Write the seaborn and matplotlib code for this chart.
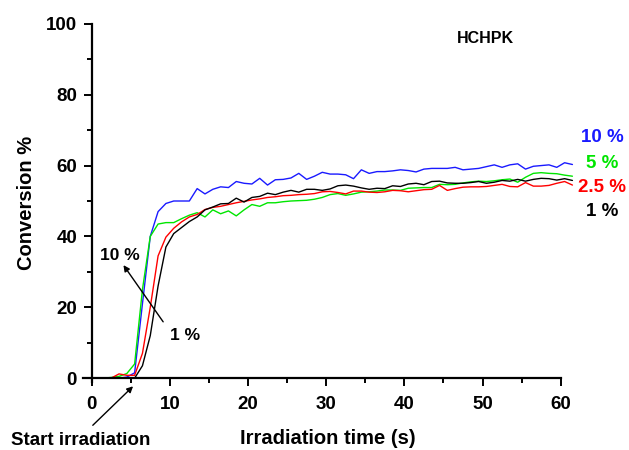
import matplotlib
matplotlib.use("Agg")
import matplotlib.pyplot as plt
import seaborn as sns
import pandas as pd
from matplotlib.ticker import MultipleLocator

# ---------------- data ----------------
time_s = [1.5, 2.5, 3.5, 4.5, 5.5, 6.5, 7.5, 8.5, 9.5, 10.5,
          11.5, 12.5, 13.5, 14.5, 15.5, 16.5, 17.5, 18.5, 19.5, 20.5,
          21.5, 22.5, 23.5, 24.5, 25.5, 26.5, 27.5, 28.5, 29.5, 30.5,
          31.5, 32.5, 33.5, 34.5, 35.5, 36.5, 37.5, 38.5, 39.5, 40.5,
          41.5, 42.5, 43.5, 44.5, 45.5, 46.5, 47.5, 48.5, 49.5, 50.5,
          51.5, 52.5, 53.5, 54.5, 55.5, 56.5, 57.5, 58.5, 59.5, 60.5,
          61.5]

conv_10 = [0, 0, 0, 0.3, 1.5, 21, 40, 47, 49.3, 50,
           50, 50, 53.5, 52, 53.3, 54, 53.8, 55.5, 55, 54.8,
           56.4, 54.5, 56, 56.1, 56.5, 57.8, 56.1, 57, 58.1, 57.6,
           57.6, 57.4, 56.3, 58.8, 57.8, 58.3, 58.3, 58.5, 58.8, 58.6,
           58.2, 59, 59.2, 59.2, 59.2, 59.5, 58.8, 59, 59.2, 59.7,
           60.2, 59.5, 60.2, 60.5, 59, 59.8, 60, 60.2, 59.5, 60.8,
           60.3]

conv_5 = [0, 0.2, 0.5, 1.3, 4, 25, 40, 43.5, 43.9, 43.9,
          45, 46, 46.7, 45.5, 47.5, 46.4, 47.2, 45.8, 47.5, 49,
          48.5, 49.5, 49.5, 49.8, 50, 50.1, 50.2, 50.5, 51, 51.8,
          52.1, 51.6, 52, 52.5, 52.6, 52.8, 53.1, 53.1, 53, 53.6,
          53.7, 53.8, 53.8, 54.7, 54.6, 54.7, 55.1, 55.4, 55.6, 55.5,
          55.7, 56, 56.2, 55.3, 56.7, 57.8, 58, 57.8, 57.7, 57.3,
          57]

conv_2_5 = [0, 0, 1.2, 0.8, 0.8, 7, 20, 34.5, 39.8, 42.3,
            44.1, 45.5, 46.2, 47.6, 48.2, 48.5, 49, 49.5, 49.9, 50.3,
            50.6, 51, 51.2, 51.5, 51.6, 51.8, 51.9, 52.1, 52.6, 52.7,
            52.4, 52, 52.8, 52.8, 52.5, 52.4, 52.6, 53, 52.9, 52.6,
            52.9, 53.2, 53.3, 54.4, 53, 53.5, 53.9, 54, 54, 54.1,
            54.4, 54.7, 54.1, 54, 55.2, 54.2, 54.2, 54.4, 55, 55.5,
            54.5]

conv_1 = [0, 0, 0, 0, 0, 3.5, 12, 26, 37, 40.8,
          42.5, 44.2, 45.5, 47.5, 48.3, 49.2, 49.3, 50.8, 49.7, 51,
          51.3, 52.2, 51.8, 52.5, 53, 52.5, 53.3, 53.3, 53, 53.4,
          54.3, 54.5, 54.2, 53.7, 53.3, 53.6, 53.5, 54.3, 54.1, 54.8,
          55, 54.6, 55.5, 55.6, 55.1, 55, 55, 55.2, 55.5, 55,
          55.3, 55.8, 55.6, 56.1, 55.6, 56.1, 56.4, 56.3, 55.9, 56.3,
          55.8]

series_names = ["10 %", "5 %", "2.5 %", "1 %"]
series_colors = ["#1a1aff", "#00e600", "#ff0000", "#000000"]

df = pd.concat([
    pd.DataFrame({"time": time_s, "conv": vals, "series": name})
    for name, vals in zip(series_names, [conv_10, conv_5, conv_2_5, conv_1])
], ignore_index=True)

# ---------------- style ----------------
sns.set_style("ticks")
plt.rcParams["font.family"] = ["Liberation Sans", "DejaVu Sans"]
plt.rcParams["font.weight"] = "bold"
plt.rcParams["text.color"] = "black"
plt.rcParams["axes.labelcolor"] = "black"
plt.rcParams["xtick.color"] = "black"
plt.rcParams["ytick.color"] = "black"

fig = plt.figure(figsize=(6.29, 4.5), dpi=100)
ax = fig.add_axes([0.132, 0.151, 0.788, 0.796])

sns.lineplot(data=df, x="time", y="conv", hue="series",
             palette=dict(zip(series_names, series_colors)),
             hue_order=series_names, linewidth=1.0, ax=ax,
             legend=False, estimator=None, sort=False)

ax.set_xlim(-1.1, 62.3)
ax.set_ylim(-1.1, 100)
for s in ["top", "right"]:
    ax.spines[s].set_visible(False)
ax.spines["left"].set_position(("data", 0))
ax.spines["bottom"].set_position(("data", 0))
ax.spines["left"].set_bounds(-1.1, 100)
ax.spines["bottom"].set_bounds(-1.1, 60)
for s in ["left", "bottom"]:
    ax.spines[s].set_linewidth(1.6)
    ax.spines[s].set_color("black")

ax.xaxis.set_major_locator(MultipleLocator(10))
ax.xaxis.set_minor_locator(MultipleLocator(5))
ax.yaxis.set_major_locator(MultipleLocator(20))
ax.yaxis.set_minor_locator(MultipleLocator(10))
ax.set_xticks([0, 10, 20, 30, 40, 50, 60])
ax.set_yticks([0, 20, 40, 60, 80, 100])
ax.tick_params(which="major", direction="out", length=6, width=1.4,
               labelsize=13.5, color="black", labelcolor="black")
ax.tick_params(which="minor", direction="out", length=3.5, width=1.4,
               color="black")
ax.tick_params(axis="x", which="major", pad=7)
ax.tick_params(axis="y", which="major", pad=4.5)
for lab in ax.get_xticklabels() + ax.get_yticklabels():
    lab.set_fontweight("bold")

ax.set_xlabel("Irradiation time (s)", fontsize=14.5, fontweight="bold",
              color="black")
ax.set_ylabel("Conversion %", fontsize=14.5, fontweight="bold",
              color="black")
ax.xaxis.set_label_coords(0.493, -0.132)
ax.yaxis.set_label_coords(-0.095, 0.5)

# right-hand series labels
label_y = [67.8, 60.5, 53.7, 46.9]
for name, col, yy in zip(series_names, series_colors, label_y):
    ax.text(65.3, yy, name, color=col, fontsize=13.5, fontweight="bold",
            ha="center", va="center", clip_on=False)

ax.text(50.4, 96, "HCHPK", fontsize=11.5, fontweight="bold",
        ha="center", va="center", color="black")

# inner annotation arrow 1 % -> 10 %
ax.annotate("", xy=(4.07, 31.9), xytext=(9.15, 15.9),
            arrowprops=dict(arrowstyle="-|>", color="black", lw=1.0,
                            mutation_scale=9, shrinkA=0, shrinkB=0))
ax.text(3.65, 34.7, "10 %", fontsize=12.5, fontweight="bold",
        ha="center", va="center", color="black")
ax.text(12.0, 12.1, "1 %", fontsize=12.5, fontweight="bold",
        ha="center", va="center", color="black")

# start irradiation arrow
ax.annotate("", xy=(5.3, -2.3), xytext=(0.15, -13.3),
            arrowprops=dict(arrowstyle="-|>", color="black", lw=1.0,
                            mutation_scale=9, shrinkA=0, shrinkB=0),
            annotation_clip=False)
ax.text(-1.4, -17.5, "Start irradiation", fontsize=13.5, fontweight="bold",
        ha="center", va="center", clip_on=False, color="black")

fig.savefig("out.png", dpi=100)
